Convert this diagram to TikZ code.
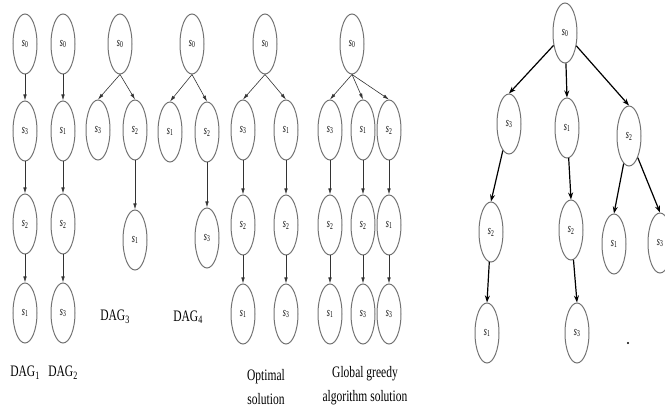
\documentclass[tikz,border=0pt]{standalone}
\usepackage{fontspec}
\setmainfont{Liberation Serif}
\usepackage{graphicx}
\usetikzlibrary{shapes.geometric,arrows.meta}

\newcommand{\sv}[1]{\scalebox{0.62}[1]{\textit{s}\textsubscript{#1}}}
\newcommand{\nar}[1]{\scalebox{0.72}[1]{#1}}

\begin{document}
\begin{tikzpicture}[x=1pt, y=-1pt,
      st/.style={ellipse, draw=black!55, line width=1pt, minimum width=24pt,
        minimum height=60pt, inner sep=0pt, font=\fontsize{13}{15}\selectfont},
      dagcap/.style={font=\fontsize{16}{24}\selectfont, align=center, inner sep=0pt},
      flow/.style={-{Latex[length=6pt,width=3.5pt]}, line width=0.6pt, black!80},
      bigflow/.style={-{Stealth[length=7pt,width=5pt]}, line width=1.2pt, black},
    ]
    \useasboundingbox (0,0) rectangle (665,414);
    % DAG 1 and DAG 2
    \node[st] (a0) at (25,44)  {\sv{0}};
    \node[st] (a1) at (25,131) {\sv{3}};
    \node[st] (a2) at (25,224) {\sv{2}};
    \node[st] (a3) at (25,313) {\sv{1}};
    \node[st] (b0) at (63,44)  {\sv{0}};
    \node[st] (b1) at (63,131) {\sv{1}};
    \node[st] (b2) at (63,224) {\sv{2}};
    \node[st] (b3) at (63,313) {\sv{3}};
    \draw[flow] (a0) -- (a1);
    \draw[flow] (a1) -- (a2);
    \draw[flow] (a2) -- (a3);
    \draw[flow] (b0) -- (b1);
    \draw[flow] (b1) -- (b2);
    \draw[flow] (b2) -- (b3);
    \node[dagcap] (la) at (25,373) {\nar{DAG\textsubscript{1}}};
    \node[dagcap] (lb) at (63,373) {\nar{DAG\textsubscript{2}}};
    % DAG 3 and DAG 4
    \node[st] (c0) at (120,44)  {\sv{0}};
    \node[st] (c1) at (98,130)  {\sv{3}};
    \node[st] (c2) at (135,130) {\sv{2}};
    \node[st] (c3) at (135,240) {\sv{1}};
    \node[st] (d0) at (192,44)  {\sv{0}};
    \node[st] (d1) at (170,132) {\sv{1}};
    \node[st] (d2) at (207,132) {\sv{2}};
    \node[st] (d3) at (207,238) {\sv{3}};
    \draw[flow] (c0.south) -- (c1.north);
    \draw[flow] (c0.south) -- (c2.north);
    \draw[flow] (c2) -- (c3);
    \draw[flow] (d0.south) -- (d1.north);
    \draw[flow] (d0.south) -- (d2.north);
    \draw[flow] (d2) -- (d3);
    \node[dagcap] (lc) at (115,317) {\nar{DAG\textsubscript{3}}};
    \node[dagcap] (ld) at (188,317) {\nar{DAG\textsubscript{4}}};
    % optimal solution
    \node[st] (o0) at (265,44)  {\sv{0}};
    \node[st] (o1) at (243,130) {\sv{3}};
    \node[st] (o2) at (243,225) {\sv{2}};
    \node[st] (o3) at (243,314) {\sv{1}};
    \node[st] (o4) at (286,130) {\sv{1}};
    \node[st] (o5) at (286,225) {\sv{2}};
    \node[st] (o6) at (286,314) {\sv{3}};
    \draw[flow] (o0.south) -- (o1.north);
    \draw[flow] (o0.south) -- (o4.north);
    \draw[flow] (o1) -- (o2);
    \draw[flow] (o2) -- (o3);
    \draw[flow] (o4) -- (o5);
    \draw[flow] (o5) -- (o6);
    \node[dagcap] (lo) at (266,387) {\nar{Optimal}\\\nar{solution}};
    % global greedy solution
    \node[st] (g0) at (352,44)  {\sv{0}};
    \node[st] (g1) at (330,130) {\sv{3}};
    \node[st] (g2) at (330,225) {\sv{2}};
    \node[st] (g3) at (330,314) {\sv{1}};
    \node[st] (g4) at (363,130) {\sv{1}};
    \node[st] (g5) at (363,225) {\sv{2}};
    \node[st] (g6) at (363,314) {\sv{3}};
    \node[st] (g7) at (389,130) {\sv{2}};
    \node[st] (g8) at (389,225) {\sv{1}};
    \node[st] (g9) at (389,314) {\sv{3}};
    \draw[flow] (g0.south) -- (g1.north);
    \draw[flow] (g0.south) -- (g4.north);
    \draw[flow] (g0.south) -- (g7.north);
    \draw[flow] (g1) -- (g2);
    \draw[flow] (g2) -- (g3);
    \draw[flow] (g4) -- (g5);
    \draw[flow] (g5) -- (g6);
    \draw[flow] (g7) -- (g8);
    \draw[flow] (g8) -- (g9);
    \node[dagcap] (lg) at (365,386) {\nar{Global greedy}\\\nar{algorithm solution}};
    % merged tree
    \node[st] (r0) at (565,33)  {\sv{0}};
    \node[st] (r1) at (509,124) {\sv{3}};
    \node[st] (r2) at (567,128) {\sv{1}};
    \node[st] (r3) at (629,136) {\sv{2}};
    \node[st] (r4) at (491,232) {\sv{2}};
    \node[st] (r5) at (571,230) {\sv{2}};
    \node[st] (r6) at (614,244) {\sv{1}};
    \node[st] (r7) at (660,243) {\sv{3}};
    \node[st] (r8) at (487,333) {\sv{1}};
    \node[st] (r9) at (577,333) {\sv{3}};
    \draw[bigflow] (r0) -- (r1.north);
    \draw[bigflow] (r0) -- (r2.north);
    \draw[bigflow] (r0) -- (r3.north);
    \draw[bigflow] (r1) -- (r4.north);
    \draw[bigflow] (r2) -- (r5.north);
    \draw[bigflow] (r3) -- (r6.north);
    \draw[bigflow] (r3) -- (r7.north);
    \draw[bigflow] (r4) -- (r8.north);
    \draw[bigflow] (r5) -- (r9.north);
    \fill (628,343) circle (1.2pt);
  \end{tikzpicture}
\end{document}
